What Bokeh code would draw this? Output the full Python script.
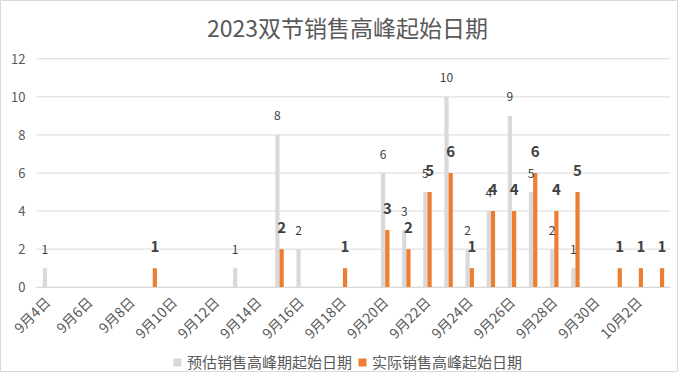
import math
from bokeh.plotting import figure
from bokeh.models import ColumnDataSource, Range1d, FixedTicker, Legend, LegendItem, Label
from bokeh.core.properties import value
from bokeh.transform import dodge
from bokeh.embed import file_html
from bokeh.resources import INLINE

title_text = "2023双节销售高峰起始日期"
series_names = ["预估销售高峰期起始日期", "实际销售高峰起始日期"]

dates = ["9月4日", "9月5日", "9月6日", "9月7日", "9月8日", "9月9日", "9月10日",
         "9月11日", "9月12日", "9月13日", "9月14日", "9月15日", "9月16日", "9月17日",
         "9月18日", "9月19日", "9月20日", "9月21日", "9月22日", "9月23日", "9月24日",
         "9月25日", "9月26日", "9月27日", "9月28日", "9月29日", "9月30日",
         "10月1日", "10月2日", "10月3日"]

estimated = [1, None, None, None, None, None, None, None, None, 1, None, 8, 2, None, None,
             None, 6, 3, 5, 10, 2, 4, 9, 5, 2, 1, None, None, None, None]
actual = [None, None, None, None, None, 1, None, None, None, None, None, 2, None, None, 1,
          None, 3, 2, 5, 6, 1, 4, 4, 6, 4, 5, None, 1, 1, 1]

y_ticks = [0, 2, 4, 6, 8, 10, 12]

GRAY = "#d9d9d9"
ORANGE = "#ed7d31"
TXT = "#595959"
FONT = "Noto Sans CJK SC"

# layout (pixels): the plot frame covers the whole canvas
W, H = 678, 372
PLOT_L, PLOT_R = 36, 670        # pixel columns of the category axis ends
PLOT_T, ZERO_PX = 58.3, 286.7   # pixel rows of y=12 and y=0
n = len(dates)
y_max = max(y_ticks)
ppu = (ZERO_PX - PLOT_T) / y_max
ppc = (PLOT_R - PLOT_L) / n
x_lo, x_hi = -0.5, n - 0.5

p = figure(width=W, height=H, output_backend="svg", toolbar_location=None,
           x_range=Range1d(x_lo - PLOT_L / ppc, x_hi + (W - PLOT_R) / ppc),
           y_range=Range1d(-(H - ZERO_PX) / ppu, y_max + PLOT_T / ppu),
           min_border_left=0, min_border_right=0, min_border_top=0, min_border_bottom=0)

p.outline_line_color = GRAY
p.xgrid.grid_line_color = None
p.ygrid.grid_line_color = None

# horizontal gridlines limited to the plotting area
p.segment(x0=[x_lo] * len(y_ticks), x1=[x_hi] * len(y_ticks), y0=y_ticks, y1=y_ticks,
          line_color=GRAY, line_width=1, level="underlay")

p.yaxis.fixed_location = x_lo
p.yaxis.bounds = (0, y_max)
p.yaxis.ticker = FixedTicker(ticks=y_ticks)
p.yaxis.axis_line_color = None
p.yaxis.major_tick_line_color = None
p.yaxis.minor_tick_line_color = None
p.yaxis.major_tick_out = 0
p.yaxis.major_tick_in = 0
p.yaxis.major_label_standoff = 11
p.yaxis.major_label_text_font = FONT
p.yaxis.major_label_text_font_size = "13px"
p.yaxis.major_label_text_color = TXT

tick_idx = list(range(0, n, 2))
p.xaxis.fixed_location = 0
p.xaxis.bounds = (x_lo, x_hi)
p.xaxis.ticker = FixedTicker(ticks=tick_idx)
p.xaxis.major_label_overrides = {i: dates[i] for i in tick_idx}
p.xaxis.major_label_orientation = math.pi / 4
p.xaxis.axis_line_color = GRAY
p.xaxis.major_tick_line_color = None
p.xaxis.minor_tick_line_color = None
p.xaxis.major_tick_out = 0
p.xaxis.major_tick_in = 0
p.xaxis.major_label_standoff = 12
p.xaxis.major_label_text_font = FONT
p.xaxis.major_label_text_font_size = "14px"
p.xaxis.major_label_text_color = TXT


def make_source(vals):
    xs, ys, labels = [], [], []
    for i, v in enumerate(vals):
        if v is not None:
            xs.append(i)
            ys.append(v)
            labels.append(str(v))
    return ColumnDataSource(dict(x=xs, top=ys, label=labels))


src_e = make_source(estimated)
src_a = make_source(actual)

r_e = p.vbar(x=dodge("x", -0.1, range=p.x_range), top="top", width=0.2, source=src_e,
             fill_color=GRAY, line_color=None)
r_a = p.vbar(x=dodge("x", 0.1, range=p.x_range), top="top", width=0.2, source=src_a,
             fill_color=ORANGE, line_color=None)

p.text(x=dodge("x", -0.1, range=p.x_range), y="top", text="label", source=src_e,
       text_align="center", text_baseline="middle", y_offset=-19,
       text_font=value(FONT), text_font_size="12px", text_color="#404040")
p.text(x=dodge("x", 0.1, range=p.x_range), y="top", text="label", source=src_a,
       text_align="center", text_baseline="middle", y_offset=-22,
       text_font=value(FONT), text_font_size="15px", text_font_style="bold",
       text_color="#404040")

title = Label(x=347, y=H - 26.5, x_units="screen", y_units="screen", text=title_text,
              text_align="center", text_baseline="middle", text_font=FONT,
              text_font_size="23px", text_color=TXT)
p.add_layout(title)

legend = Legend(items=[LegendItem(label=series_names[0], renderers=[r_e]),
                       LegendItem(label=series_names[1], renderers=[r_a])],
                orientation="horizontal", location=(172, 0),
                glyph_width=10, glyph_height=10, label_standoff=5, spacing=5,
                padding=0, margin=0, border_line_color=None, background_fill_alpha=0,
                label_text_font=FONT, label_text_font_size="15px", label_text_color=TXT,
                label_height=20)
p.add_layout(legend, "center")

open("out.html", "w").write(file_html(p, INLINE))
